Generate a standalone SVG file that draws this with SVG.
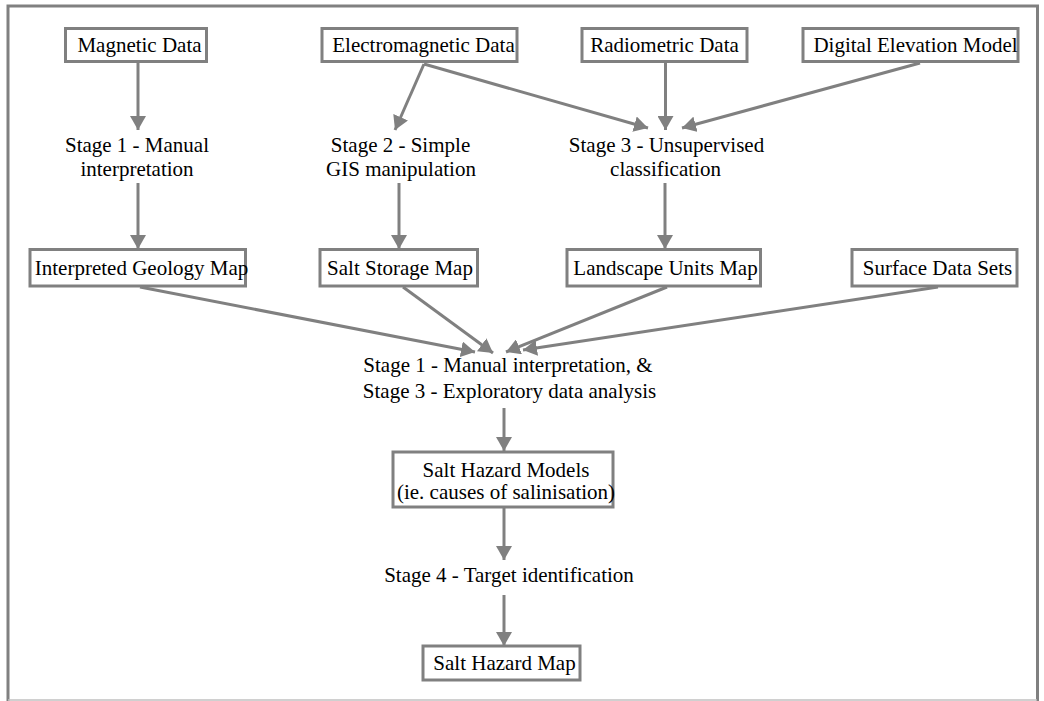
<svg xmlns="http://www.w3.org/2000/svg" width="1044" height="701" viewBox="0 0 1044 701">
<style>
.box{fill:#fff;stroke:#808080;stroke-width:3}
.t{font-family:"Liberation Serif","Times New Roman",serif;font-size:21px;fill:#000;text-anchor:middle}
.c{stroke:#808080;stroke-width:3;fill:none;marker-end:url(#ah)}
</style>
<defs>
<marker id="ah" markerUnits="userSpaceOnUse" markerWidth="14" markerHeight="16" refX="14" refY="8" orient="auto">
<path d="M0,0 L14,8 L0,16 z" fill="#808080"/>
</marker>
</defs>
<rect width="1044" height="701" fill="#fff"/>
<g id="frame">
<path d="M8,701 V6 H1037.5 V701" fill="none" stroke="#808080" stroke-width="3"/>
<line x1="8" y1="700" x2="1037" y2="700" stroke="#c0c0c0" stroke-width="1.5"/>
</g>
<g id="connectors">
<line class="c" x1="138" y1="63" x2="138" y2="130"/>
<line class="c" x1="424" y1="64" x2="395" y2="130"/>
<line class="c" x1="424" y1="64" x2="648" y2="128"/>
<line class="c" x1="665.5" y1="63" x2="665.5" y2="130"/>
<line class="c" x1="920" y1="63" x2="682" y2="128"/>
<line class="c" x1="138" y1="183" x2="138" y2="249"/>
<line class="c" x1="399" y1="183" x2="399" y2="249"/>
<line class="c" x1="665" y1="183" x2="665" y2="249"/>
<line class="c" x1="140" y1="287" x2="475" y2="352"/>
<line class="c" x1="403" y1="287" x2="493" y2="353"/>
<line class="c" x1="667" y1="287" x2="506" y2="352"/>
<line class="c" x1="938" y1="287" x2="523" y2="350"/>
<line class="c" x1="504" y1="408" x2="504" y2="451"/>
<line class="c" x1="504" y1="508" x2="504" y2="560"/>
<line class="c" x1="504" y1="595" x2="504" y2="646"/>
</g>
<g id="magnetic">
<rect class="box" x="65.5" y="28.5" width="141" height="33"/>
<text class="t" x="139.5" y="52">Magnetic Data</text>
</g>
<g id="electromagnetic">
<rect class="box" x="322" y="28.5" width="195" height="33"/>
<text class="t" x="423.5" y="52">Electromagnetic Data</text>
</g>
<g id="radiometric">
<rect class="box" x="582" y="28.5" width="165" height="33"/>
<text class="t" x="664.5" y="52">Radiometric Data</text>
</g>
<g id="dem">
<rect class="box" x="803" y="28.5" width="215" height="33"/>
<text class="t" x="915.5" y="52">Digital Elevation Model</text>
</g>
<g id="stage1">
<text class="t" x="137" y="152">Stage 1 - Manual</text>
<text class="t" x="137" y="176">interpretation</text>
</g>
<g id="stage2">
<text class="t" x="400.5" y="152">Stage 2 - Simple</text>
<text class="t" x="401" y="176">GIS manipulation</text>
</g>
<g id="stage3">
<text class="t" x="666.5" y="152">Stage 3 - Unsupervised</text>
<text class="t" x="665.5" y="176">classification</text>
</g>
<g id="geology">
<rect class="box" x="30" y="249.5" width="215.5" height="36.5"/>
<text class="t" x="141.5" y="275">Interpreted Geology Map</text>
</g>
<g id="saltstorage">
<rect class="box" x="320" y="249.5" width="157.5" height="36.5"/>
<text class="t" x="400" y="275">Salt Storage Map</text>
</g>
<g id="landscape">
<rect class="box" x="567" y="249.5" width="193.5" height="36.5"/>
<text class="t" x="665.5" y="275">Landscape Units Map</text>
</g>
<g id="surface">
<rect class="box" x="852" y="249.5" width="165" height="36.5"/>
<text class="t" x="937.5" y="275">Surface Data Sets</text>
</g>
<g id="combined">
<text class="t" x="508" y="372">Stage 1 - Manual interpretation, &amp;</text>
<text class="t" x="509.5" y="398">Stage 3 - Exploratory data analysis</text>
</g>
<g id="models">
<rect class="box" x="393" y="452" width="220" height="55"/>
<text class="t" x="506" y="477">Salt Hazard Models</text>
<text class="t" x="506" y="499">(ie. causes of salinisation)</text>
</g>
<g id="stage4">
<text class="t" x="509" y="582">Stage 4 - Target identification</text>
</g>
<g id="hazardmap">
<rect class="box" x="423" y="646" width="157" height="34"/>
<text class="t" x="504.5" y="670">Salt Hazard Map</text>
</g>
</svg>
